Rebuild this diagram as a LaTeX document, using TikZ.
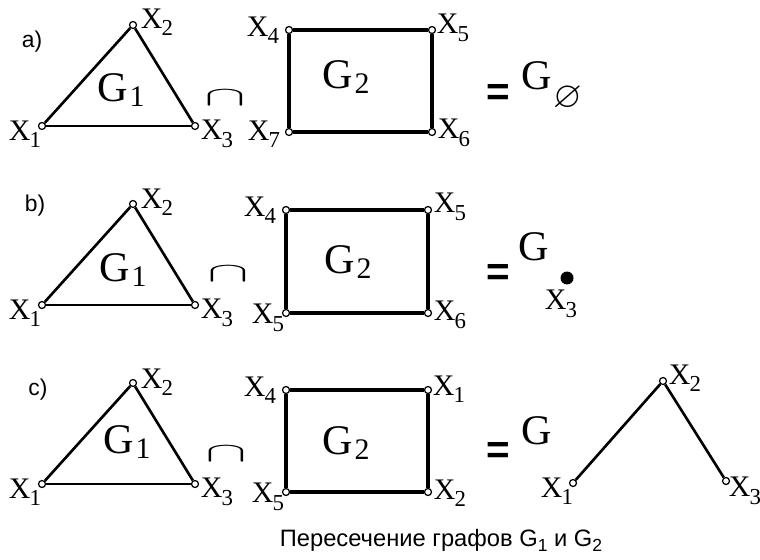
\documentclass[tikz,border=0pt]{standalone}
\usepackage{amssymb}
\usepackage{graphicx}
\usepackage{fontspec}
\setmainfont{Liberation Serif}
\newfontfamily\arial{Liberation Sans}
\newcommand{\xs}[1]{X\kern-0.5pt\raisebox{-0.55ex}{\fontsize{13}{13}\selectfont #1}}
\newcommand{\gs}[1]{G\kern1pt\raisebox{-0.3ex}{\fontsize{17}{17}\selectfont #1}}
\newcommand{\capsym}{\scalebox{1.7}[0.75]{$\cap$}}

\begin{document}
\begin{tikzpicture}[x=0.02cm,y=-0.02cm]
\tikzstyle{vertex}=[circle,draw,fill=white,line width=0.7pt,minimum size=0.14cm,inner sep=0pt]
\tikzstyle{tri}=[draw,line width=1.5pt]
\tikzstyle{sq}=[draw,line width=2pt]
\tikzstyle{lbl}=[inner sep=0pt,font=\fontsize{17}{17}\selectfont]
\tikzstyle{big}=[inner sep=0pt,font=\fontsize{24}{24}\selectfont]
\tikzstyle{tag}=[inner sep=0pt,font=\arial\fontsize{13}{13}\selectfont]
\tikzstyle{eq}=[inner sep=0pt,font=\arial\bfseries\fontsize{23}{23}\selectfont]
\tikzstyle{sym}=[inner sep=0pt,font=\fontsize{21}{21}\selectfont]
\useasboundingbox (0,0) rectangle (760,560);
% a)
    \node[tag] (ta) at (32,42) {a)};
    \node[vertex] (a1) at (42,126) {};
    \node[vertex] (a2) at (133,25) {};
    \node[vertex] (a3) at (195,126) {};
    \node[lbl] (la1) at (25,134) {\xs{1}};
    \node[lbl] (la2) at (157,22) {\xs{2}};
    \node[lbl] (la3) at (217,134) {\xs{3}};
    \node[big] (ga1) at (121,90) {\gs{1}};
    \node[sym] (ca) at (225,98) {\capsym};
    \node[vertex] (a4) at (289,30) {};
    \node[vertex] (a5) at (432,30) {};
    \node[vertex] (a6) at (432,132) {};
    \node[vertex] (a7) at (289,132) {};
    \node[lbl] (la4) at (263,30) {\xs{4}};
    \node[lbl] (la5) at (453,28) {\xs{5}};
    \node[lbl] (la6) at (454,133) {\xs{6}};
    \node[lbl] (la7) at (264,134) {\xs{7}};
    \node[big] (ga2) at (346,77) {\gs{2}};
    \node[eq] (ea) at (498,95) {=};
    \node[big] (ra) at (537,76) {G};
    \node[inner sep=0pt] (ra0) at (568,98) {\fontsize{21}{21}\selectfont$\varnothing$};
    \path (a1) edge [tri] (a2);
    \path (a2) edge [tri] (a3);
    \path (a1) edge [tri] (a3);
    \path (a4) edge [sq] (a5);
    \path (a5) edge [sq] (a6);
    \path (a6) edge [sq] (a7);
    \path (a7) edge [sq] (a4);
% b)
    \node[tag] (tb) at (35,206) {b)};
    \node[vertex] (b1) at (42,305) {};
    \node[vertex] (b2) at (133,204) {};
    \node[vertex] (b3) at (195,305) {};
    \node[lbl] (lb1) at (25,313) {\xs{1}};
    \node[lbl] (lb2) at (157,202) {\xs{2}};
    \node[lbl] (lb3) at (217,313) {\xs{3}};
    \node[big] (gb1) at (123,270) {\gs{1}};
    \node[sym] (cb) at (228,274) {\capsym};
    \node[vertex] (b4) at (286,210) {};
    \node[vertex] (b5) at (428,210) {};
    \node[vertex] (b6) at (428,313) {};
    \node[vertex] (b7) at (286,313) {};
    \node[lbl] (lb4) at (260,210) {\xs{4}};
    \node[lbl] (lb5) at (450,207) {\xs{5}};
    \node[lbl] (lb6) at (450,315) {\xs{6}};
    \node[lbl] (lb7) at (268,318) {\xs{5}};
    \node[big] (gb2) at (348,262) {\gs{2}};
    \node[eq] (eb) at (498,275) {=};
    \node[big] (rb) at (534,247) {G};
    \node[circle,fill=black,minimum size=0.26cm,inner sep=0pt] (rb3) at (567,278) {};
    \node[lbl] (lrb3) at (561,304) {\xs{3}};
    \path (b1) edge [tri] (b2);
    \path (b2) edge [tri] (b3);
    \path (b1) edge [tri] (b3);
    \path (b4) edge [sq] (b5);
    \path (b5) edge [sq] (b6);
    \path (b6) edge [sq] (b7);
    \path (b7) edge [sq] (b4);
% c)
    \node[tag] (tc) at (38,390) {c)};
    \node[vertex] (c1) at (42,484) {};
    \node[vertex] (c2) at (133,383) {};
    \node[vertex] (c3) at (195,484) {};
    \node[lbl] (lc1) at (25,492) {\xs{1}};
    \node[lbl] (lc2) at (157,382) {\xs{2}};
    \node[lbl] (lc3) at (217,492) {\xs{3}};
    \node[big] (gc1) at (127,442) {\gs{1}};
    \node[sym] (cc) at (226,454) {\capsym};
    \node[vertex] (c4) at (286,390) {};
    \node[vertex] (c5) at (428,390) {};
    \node[vertex] (c6) at (428,492) {};
    \node[vertex] (c7) at (286,492) {};
    \node[lbl] (lc4) at (260,390) {\xs{4}};
    \node[lbl] (lc5) at (449,389) {\xs{1}};
    \node[lbl] (lc6) at (450,493) {\xs{2}};
    \node[lbl] (lc7) at (268,497) {\xs{5}};
    \node[big] (gc2) at (346,443) {\gs{2}};
    \node[eq] (ec) at (498,453) {=};
    \node[big] (rc) at (537,431) {G};
    \node[vertex] (r1) at (573,483) {};
    \node[vertex] (r2) at (663,381) {};
    \node[vertex] (r3) at (726,481) {};
    \node[lbl] (lr1) at (557,491) {\xs{1}};
    \node[lbl] (lr2) at (685,378) {\xs{2}};
    \node[lbl] (lr3) at (745,491) {\xs{3}};
    \path (c1) edge [tri] (c2);
    \path (c2) edge [tri] (c3);
    \path (c1) edge [tri] (c3);
    \path (c4) edge [sq] (c5);
    \path (c5) edge [sq] (c6);
    \path (c6) edge [sq] (c7);
    \path (c7) edge [sq] (c4);
    \path (r1) edge [tri] (r2);
    \path (r2) edge [tri] (r3);
% caption
    \node[inner sep=0pt,font=\arial\fontsize{13.5}{14}\selectfont] (cap) at (441,540)
      {Пересечение графов G\raisebox{-0.4ex}{\fontsize{10}{10}\selectfont 1} и G\raisebox{-0.4ex}{\fontsize{10}{10}\selectfont 2}};
\end{tikzpicture}
\end{document}
